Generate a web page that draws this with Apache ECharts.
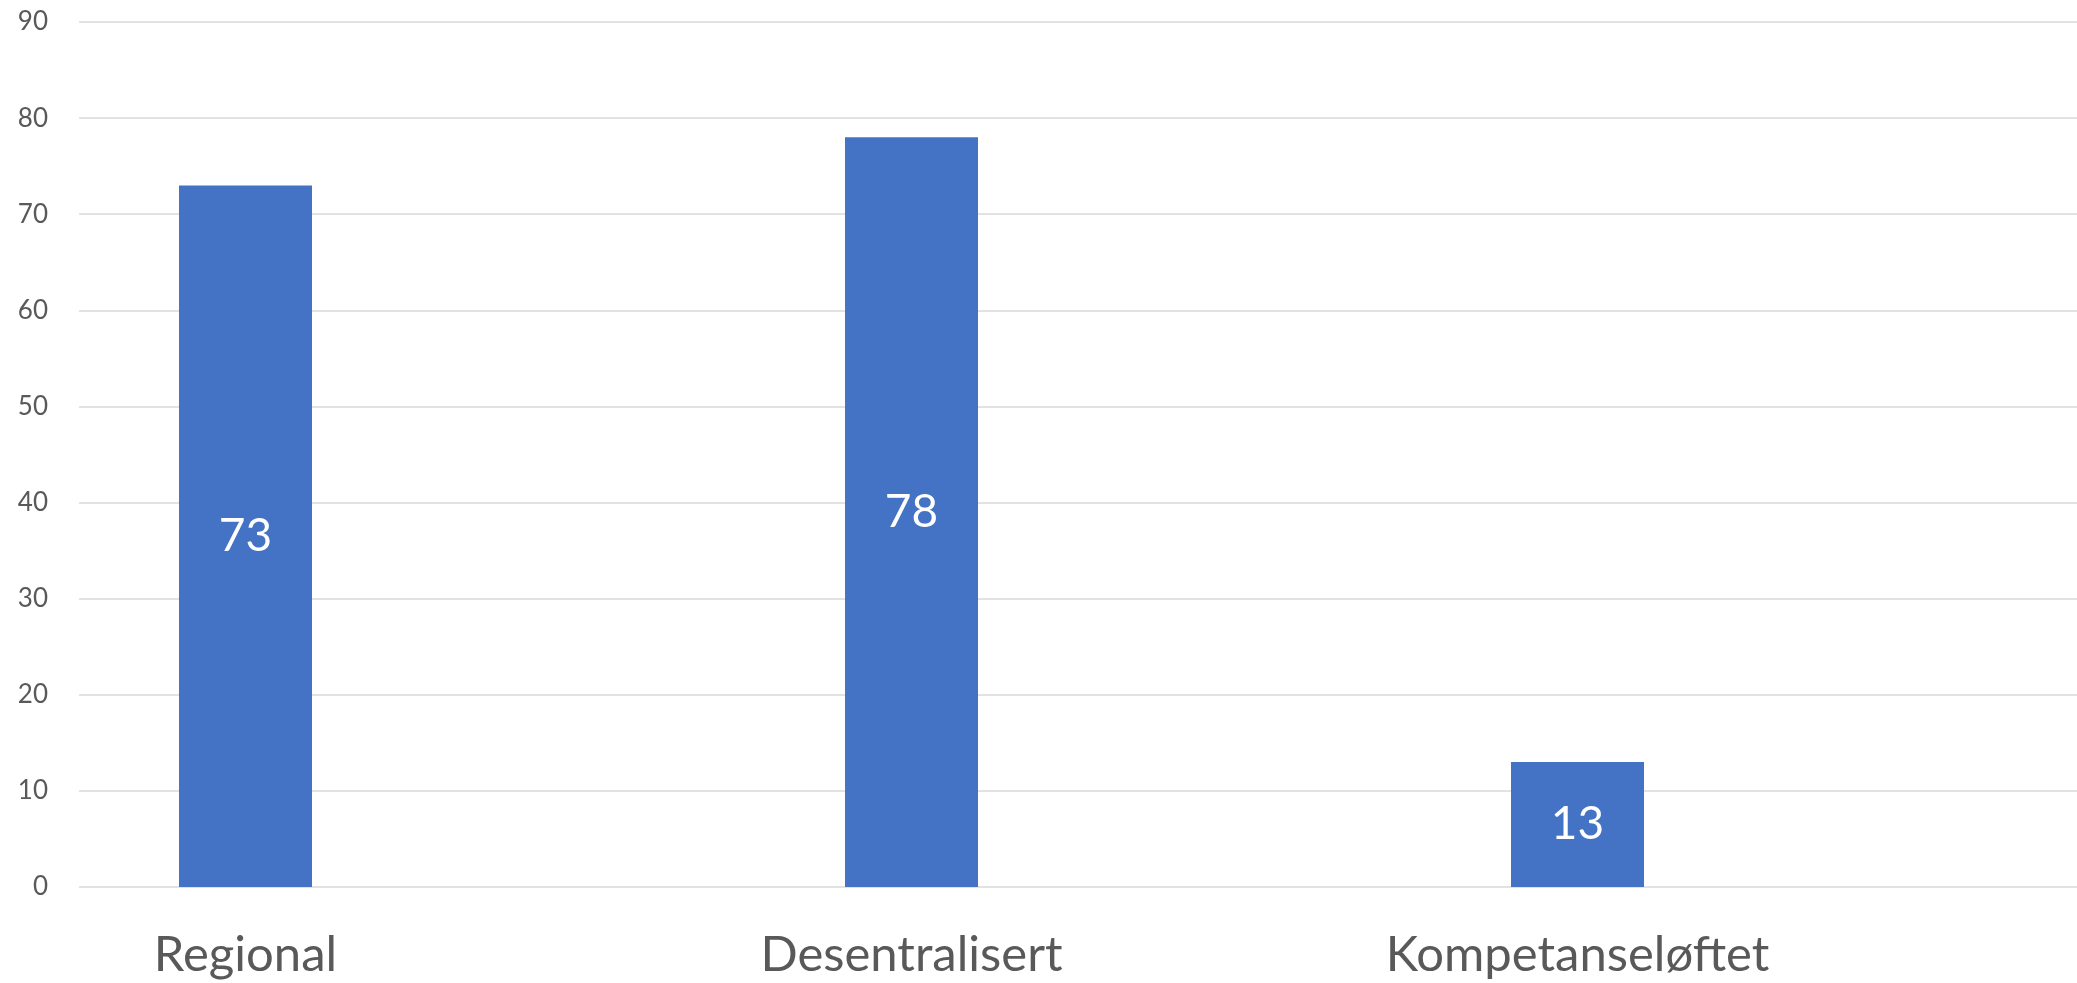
<!DOCTYPE html>
<html><head><meta charset="utf-8">
<style>html,body{margin:0;padding:0;background:#fff}#c{width:2077px;height:983px}</style>
<script src="https://cdn.jsdelivr.net/npm/echarts@6/dist/echarts.min.js"></script>
</head><body><div id="c"></div>
<script>
const categories = ['Regional', 'Desentralisert', 'Kompetanseløftet'];
const values = [73, 78, 13];
const yMin = 0, yMax = 90, yStep = 10;

const positions = categories.map((c, i) => i);
const chart = echarts.init(document.getElementById('c'));
chart.setOption({
  animation: false,
  textStyle: { fontFamily: 'Lato' },
  grid: { left: 79, right: 0, top: 22, bottom: 96, containLabel: false },
  xAxis: {
    type: 'value', min: -0.25, max: positions.length - 0.25,
    axisLine: { show: false }, axisTick: { show: false }, splitLine: { show: false },
    axisLabel: {
      customValues: positions,
      formatter: v => categories[Math.round(v)] || '',
      color: '#595959', fontSize: 49, fontFamily: 'Lato', margin: 44
    }
  },
  yAxis: {
    type: 'value', min: yMin, max: yMax, interval: yStep,
    axisLine: { show: false }, axisTick: { show: false },
    axisLabel: { color: '#595959', fontSize: 26, fontFamily: 'Lato', margin: 31 },
    splitLine: { lineStyle: { color: '#d9d9d9', width: 1.5 } }
  },
  series: [{
    type: 'bar', data: values.map((v, i) => [positions[i], v]),
    barWidth: 133,
    itemStyle: { color: '#4472C4' },
    label: { show: true, position: 'inside', color: '#ffffff', fontSize: 46, fontFamily: 'Lato',
      formatter: p => p.value[1] }
  }]
});
</script></body></html>
